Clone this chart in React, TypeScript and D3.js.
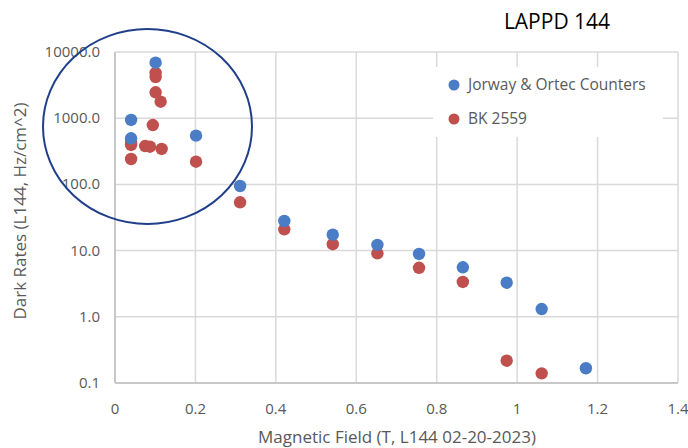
import React from 'react'
import { scaleLinear, scaleLog } from 'd3'

// Jorway & Ortec counters (blue)
const jorwayField = [0.04, 0.04, 0.101, 0.2015, 0.311, 0.421, 0.5415, 0.6525, 0.756, 0.865, 0.974, 1.061, 1.171]
const jorwayRate = [940, 497, 6890, 545, 94.6, 28.0, 17.4, 12.2, 8.9, 5.6, 3.27, 1.31, 0.167]

// BK 2559 (red)
const bkField = [0.04, 0.04, 0.04, 0.075, 0.087, 0.094, 0.101, 0.101, 0.101, 0.1135, 0.116, 0.2015, 0.311, 0.421, 0.5415, 0.6525, 0.756, 0.865, 0.974, 1.061]
const bkRate = [442, 394, 242, 380, 371, 789, 4820, 4190, 2460, 1775, 343, 220, 53.7, 21.0, 12.5, 9.1, 5.5, 3.36, 0.217, 0.14]

const xTicks = [0, 0.2, 0.4, 0.6, 0.8, 1, 1.2, 1.4]
const yTicks = [0.1, 1, 10, 100, 1000, 10000]

const font = '"Open Sans", sans-serif'
const blue = '#4A7DC6'
const red = '#C0504D'

const App = () => {
  const width = 688
  const height = 448
  const left = 115, right = 678, top = 52, bottom = 383

  const x = scaleLinear().domain([0, 1.4]).range([left, right])
  const y = scaleLog().domain([0.1, 10000]).range([bottom, top])

  return (
    <svg width={width} height={height} style={{ position: 'absolute', left: 0, top: 0 }}>
      <rect width={width} height={height} fill="white" />
      {xTicks.map(t => (
        <line key={'gx' + t} x1={x(t)} x2={x(t)} y1={top} y2={bottom} stroke="#d9d9d9" strokeWidth={1.5} />
      ))}
      {yTicks.map(t => (
        <line key={'gy' + t} x1={left} x2={right} y1={y(t)} y2={y(t)} stroke="#d9d9d9" strokeWidth={1.5} />
      ))}
      <line x1={left} x2={left} y1={top} y2={bottom} stroke="#bfbfbf" strokeWidth={1.5} />
      <line x1={left} x2={right} y1={bottom} y2={bottom} stroke="#bfbfbf" strokeWidth={1.5} />

      {xTicks.map(t => (
        <text key={'tx' + t} x={x(t)} y={414} textAnchor="middle" fontFamily={font} fontSize={15} fill="#595959">{String(t)}</text>
      ))}
      {yTicks.map(t => (
        <text key={'ty' + t} x={100} y={y(t) + 5} textAnchor="end" fontFamily={font} fontSize={15} fill="#595959">{t.toFixed(1)}</text>
      ))}

      <text x={397} y={443} textAnchor="middle" fontFamily={font} fontSize={17} fill="#595959">Magnetic Field (T, L144 02-20-2023)</text>
      <text transform="translate(26,211) rotate(-90)" textAnchor="middle" fontFamily={font} fontSize={17} fill="#595959">Dark Rates (L144, Hz/cm^2)</text>
      <text x={557} y={29} textAnchor="middle" fontFamily={font} fontSize={21} fill="#000">LAPPD 144</text>

      <rect x={433} y={67} width={230} height={70} fill="white" />
      <circle cx={454} cy={85} r={5.5} fill={blue} />
      <text x={468} y={90} fontFamily={font} fontSize={15.5} fill="#595959">Jorway &amp; Ortec Counters</text>
      <circle cx={454} cy={119} r={5.5} fill={red} />
      <text x={468} y={124} fontFamily={font} fontSize={15.5} fill="#595959">BK 2559</text>

      {bkField.map((f, i) => (
        <circle key={'r' + i} cx={x(f)} cy={y(bkRate[i])} r={6.2} fill={red} />
      ))}
      {jorwayField.map((f, i) => (
        <circle key={'b' + i} cx={x(f)} cy={y(jorwayRate[i])} r={6.2} fill={blue} />
      ))}

      <ellipse cx={147.5} cy={126.5} rx={104.5} ry={97.5} fill="none" stroke="#203F8A" strokeWidth={2} />
    </svg>
  )
}

export default App
